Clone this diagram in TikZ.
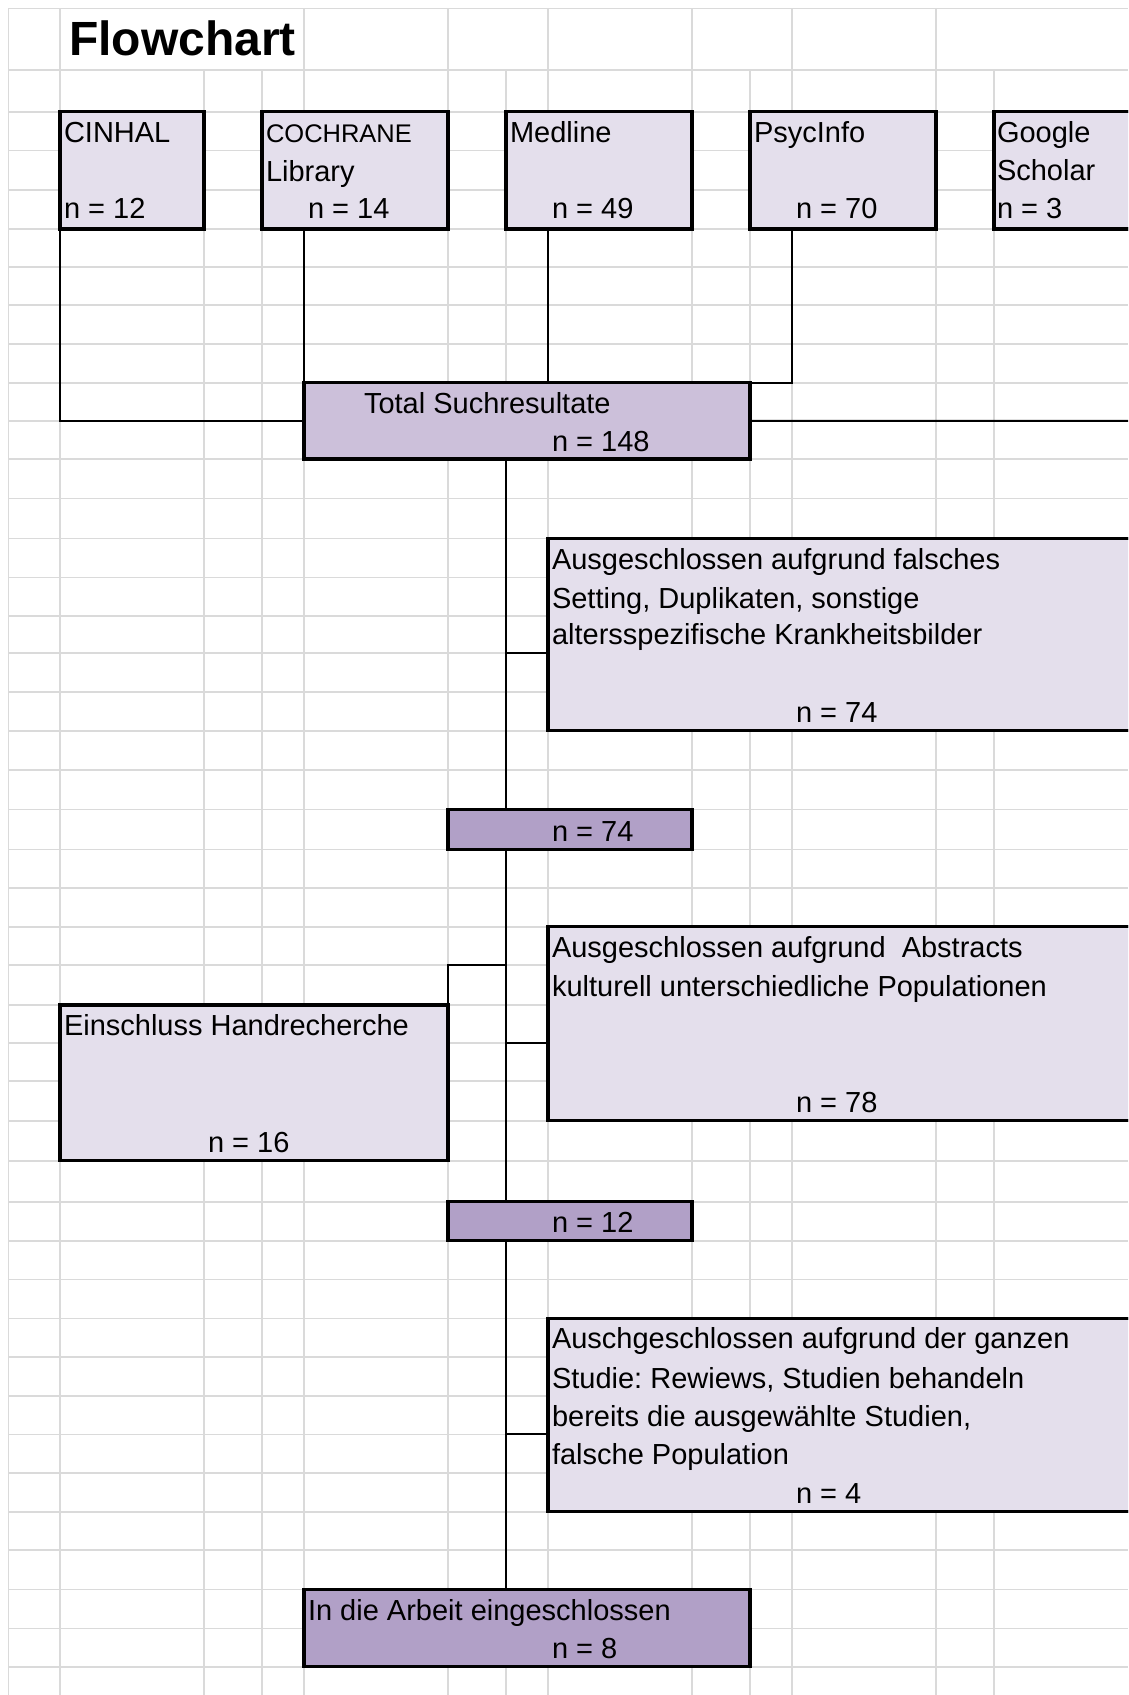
\documentclass[tikz,border=0pt]{standalone}
\usepackage{fontspec}
\setmainfont{Liberation Sans}
\definecolor{lavA}{HTML}{E4DFEC}
\definecolor{lavB}{HTML}{CCC0DA}
\definecolor{lavC}{HTML}{B1A0C7}
\definecolor{gridc}{HTML}{DADADA}
\frenchspacing
\tikzset{
  box/.style={draw=black, line width=3.5pt, rectangle, inner sep=0pt, outer sep=0pt, anchor=north west},
  lightbox/.style={box, fill=lavA},
  midbox/.style={box, fill=lavB},
  darkbox/.style={box, fill=lavC},
  txt/.style={anchor=base west, inner sep=0pt, outer sep=0pt, font=\fontsize{29}{34}\selectfont},
  smalltxt/.style={txt, font=\fontsize{25.5}{30}\selectfont},
  titletxt/.style={anchor=base west, inner sep=0pt, outer sep=0pt, font=\bfseries\fontsize{48}{52}\selectfont},
  conn/.style={draw=black, line width=2pt},
  gridline/.style={draw=gridc, line width=1.6pt}
}
\begin{document}
\begin{tikzpicture}[x=1pt,y=-1pt]
\useasboundingbox (0,0) rectangle (1128,1695);
\clip (0,0) rectangle (1128,1695);
\fill[white] (0,0) rectangle (1128,1695);
% grid
\foreach \yy in {8.3,70,111.7,150.5,190,229,266.7,305,344,382.7,421,459,498.3,538.3,577.3,616,652.7,691.7,730.7,770,809.3,849.3,887.7,926.7,965,1005,1042.7,1080.7,1120.7,1160.7,1201.7,1240.7,1279.3,1318.3,1356.7,1396,1434.3,1472.7,1511.7,1550,1589.3,1628.3,1666.7}
  \draw[gridline] (8.3,\yy) -- (1128,\yy);
\foreach \xx in {8.3,60,204,262,304,448,506,548,692,750,792,936,994}
  \draw[gridline] (\xx,70) -- (\xx,1695);
\foreach \xx in {8.3,60,304,448,548,692,792,936}
  \draw[gridline] (\xx,8.3) -- (\xx,70);

% boxes
\node[lightbox, minimum width=144pt, minimum height=117.3pt] (cinhal) at (60,111.7) {};
\node[lightbox, minimum width=186pt, minimum height=117.3pt] (cochrane) at (262,111.7) {};
\node[lightbox, minimum width=186pt, minimum height=117.3pt] (medline) at (506,111.7) {};
\node[lightbox, minimum width=186pt, minimum height=117.3pt] (psyc) at (750,111.7) {};
\node[lightbox, minimum width=200pt, minimum height=117.3pt] (google) at (994,111.7) {};
\node[midbox, minimum width=446pt, minimum height=76.3pt] (total) at (304,382.7) {};
\node[lightbox, minimum width=620pt, minimum height=192.4pt] (excl1) at (548,538.3) {};
\node[darkbox, minimum width=244pt, minimum height=40pt] (n74) at (448,809.3) {};
\node[lightbox, minimum width=620pt, minimum height=194pt] (excl2) at (548,926.7) {};
\node[lightbox, minimum width=388pt, minimum height=155.7pt] (ein) at (60,1005) {};
\node[darkbox, minimum width=244pt, minimum height=39pt] (n12) at (448,1201.7) {};
\node[lightbox, minimum width=620pt, minimum height=193.4pt] (excl3) at (548,1318.3) {};
\node[darkbox, minimum width=446pt, minimum height=77.4pt] (final) at (304,1589.3) {};

% connectors
\coordinate (mainx) at (506,0);
\coordinate (medx) at (548,0);
\coordinate (psyx) at (792,0);
\coordinate (gturn) at (1160,420.85);
\coordinate (e1y) at (0,652.7);
\coordinate (einy) at (0,965);
\coordinate (e2y) at (0,1042.7);
\coordinate (e3y) at (0,1434.3);
\draw[conn] (cinhal.south west) |- (total.west);
\draw[conn] (cochrane.south -| total.north west) -- (total.north west);
\draw[conn] (medline.south -| medx) -- (total.north -| medx);
\draw[conn] (psyc.south -| psyx) |- (total.north east);
\draw[conn] (google.south -| gturn) -- (gturn) -- (total.east);
\draw[conn] (total.south -| mainx) -- (n74.north -| mainx);
\draw[conn] (n74.south -| mainx) -- (n12.north -| mainx);
\draw[conn] (n12.south -| mainx) -- (final.north -| mainx);
\draw[conn] (mainx |- e1y) -- (excl1.west |- e1y);
\draw[conn] (mainx |- einy) -| (ein.north east);
\draw[conn] (mainx |- e2y) -- (excl2.west |- e2y);
\draw[conn] (mainx |- e3y) -- (excl3.west |- e3y);

% redraw box borders on top of connector ends
\foreach \n in {cinhal,cochrane,medline,psyc,google,total,excl1,n74,excl2,ein,n12,excl3,final}
  \draw[line width=3.5pt] (\n.north west) rectangle (\n.south east);

% texts
\node[titletxt] (title) at (69,55) {Flowchart};
\node[txt] (cinhalA) at (64,142.7) {CINHAL};
\node[txt] (cinhalB) at (64,218.3) {n = 12};
\node[smalltxt] (cochA) at (266,142.7) {COCHRANE};
\node[txt] (cochB) at (266,181.7) {Library};
\node[txt] (cochC) at (308,218.3) {n = 14};
\node[txt] (medA) at (510,142.7) {Medline};
\node[txt] (medB) at (552,218.3) {n = 49};
\node[txt] (psyA) at (754,142.7) {PsycInfo};
\node[txt] (psyB) at (796,218.3) {n = 70};
\node[txt] (gooA) at (997,142.3) {Google};
\node[txt] (gooB) at (997,180.7) {Scholar};
\node[txt] (gooC) at (997,218.3) {n = 3};
\node[txt] (totA) at (364,413) {Total Suchresultate};
\node[txt] (totB) at (552,451) {n = 148};
\node[txt] (exA) at (552,569.3) {Ausgeschlossen aufgrund falsches};
\node[txt] (exB) at (552,608) {Setting, Duplikaten, sonstige};
\node[txt] (exC) at (552,644.7) {altersspezifische Krankheitsbilder};
\node[txt] (exD) at (796,722.7) {n = 74};
\node[txt] (n74t) at (552,841.3) {n = 74};
\node[txt] (exE) at (552,957) {Ausgeschlossen aufgrund \ Abstracts};
\node[txt] (exF) at (552,996.3) {kulturell unterschiedliche Populationen};
\node[txt] (exG) at (796,1112.7) {n = 78};
\node[txt] (einA) at (64,1035) {Einschluss Handrecherche};
\node[txt] (einB) at (208,1152.7) {n = 16};
\node[txt] (n12t) at (552,1232.7) {n = 12};
\node[txt] (exH) at (552,1348.7) {Auschgeschlossen aufgrund der ganzen};
\node[txt] (exI) at (552,1388) {Studie: Rewiews, Studien behandeln};
\node[txt] (exJ) at (552,1426.3) {bereits die ausgewählte Studien,};
\node[txt] (exK) at (552,1464.7) {falsche Population};
\node[txt] (exL) at (796,1503.7) {n = 4};
\node[txt] (finA) at (308,1620.3) {In die Arbeit eingeschlossen};
\node[txt] (finB) at (552,1658.7) {n = 8};
\end{tikzpicture}
\end{document}
